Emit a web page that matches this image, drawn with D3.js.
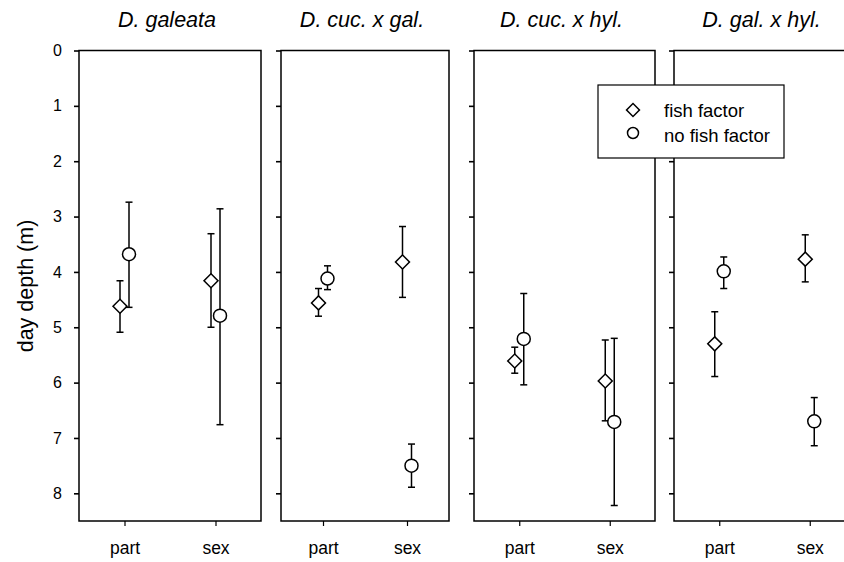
<!DOCTYPE html>
<html>
<head>
<meta charset="utf-8">
<script src="https://cdn.jsdelivr.net/npm/d3@7"></script>
<style>
body { margin: 0; background: #fff; }
text { font-family: "Liberation Sans", Arial, sans-serif; fill: #000; }
</style>
</head>
<body>
<script>
var width = 844;
var height = 562;

// data
var panelTitles = ["D. galeata", "D. cuc. x gal.", "D. cuc. x hyl.", "D. gal. x hyl."];
var categories = ["part", "sex"];
var depthTicks = [0, 1, 2, 3, 4, 5, 6, 7, 8];
// fish factor (diamonds): mean, upper bar end, lower bar end
var fishMean = [[4.62, 4.16], [4.56, 3.82], [5.61, 5.97], [5.30, 3.77]];
var fishTop = [[4.16, 3.31], [4.30, 3.18], [5.36, 5.23], [4.72, 3.33]];
var fishBottom = [[5.09, 5.00], [4.80, 4.46], [5.83, 6.69], [5.89, 4.18]];
// no fish factor (circles)
var noFishMean = [[3.68, 4.79], [4.12, 7.50], [5.21, 6.71], [3.99, 6.70]];
var noFishTop = [[2.74, 2.86], [3.89, 7.11], [4.39, 5.20], [3.73, 6.27]];
var noFishBottom = [[4.64, 6.76], [4.32, 7.89], [6.04, 8.22], [4.30, 7.14]];

// layout
var panelLeft = [79, 281, 474, 674];
var panelWidth = [182, 168, 181, 181];
var plotTop = 50.5, plotBottom = 521;
var offset = 4.5;

var svg = d3.select("body")
  .append("svg")
  .attr("width", width)
  .attr("height", height);

var y = d3.scaleLinear()
  .domain([0, 8.5])
  .range([plotTop, plotBottom]);

panelTitles.forEach(function (title, p) {
  var g = svg.append("g");
  var x = d3.scalePoint()
    .domain(categories)
    .range([panelLeft[p], panelLeft[p] + panelWidth[p]])
    .padding(0.5);

  // frame
  g.append("rect")
    .attr("x", panelLeft[p])
    .attr("y", plotTop)
    .attr("width", panelWidth[p])
    .attr("height", plotBottom - plotTop)
    .attr("fill", "none")
    .attr("stroke", "#000")
    .attr("stroke-width", 1.5);

  var yAxis = d3.axisLeft(y)
    .tickValues(depthTicks)
    .tickSize(5)
    .tickPadding(12)
    .tickFormat(p == 0 ? d3.format("d") : "");
  var ya = g.append("g")
    .attr("transform", "translate(" + panelLeft[p] + ",0)")
    .call(yAxis);
  ya.select(".domain").remove();
  ya.selectAll("line").attr("stroke-width", 1.6);
  ya.selectAll("text")
    .style("font-size", "16px")
    .style("font-family", "Liberation Sans, Arial, sans-serif");

  var xAxis = d3.axisBottom(x)
    .tickSize(5)
    .tickPadding(16);
  var xa = g.append("g")
    .attr("transform", "translate(0," + plotBottom + ")")
    .call(xAxis);
  xa.select(".domain").remove();
  xa.selectAll("line").attr("stroke-width", 1.2);
  xa.selectAll("text")
    .style("font-size", "17.5px")
    .style("font-family", "Liberation Sans, Arial, sans-serif");

  g.append("text")
    .attr("x", panelLeft[p] + panelWidth[p] / 2 - 3)
    .attr("y", 27)
    .attr("text-anchor", "middle")
    .style("font-size", "21.5px")
    .style("font-style", "italic")
    .text(title);

  var series = [
    { shape: "diamond", dx: -offset, mean: fishMean[p], lo: fishTop[p], hi: fishBottom[p] },
    { shape: "circle", dx: offset, mean: noFishMean[p], lo: noFishTop[p], hi: noFishBottom[p] }
  ];

  series.forEach(function (s) {
    var pts = categories.map(function (c, i) {
      return { cx: x(c) + s.dx, m: s.mean[i], lo: s.lo[i], hi: s.hi[i] };
    });
    var eb = g.append("g")
      .attr("stroke", "#000")
      .attr("stroke-width", 1.5);
    eb.selectAll("line.bar")
      .data(pts)
      .enter()
      .append("line")
      .attr("x1", function (d) { return d.cx; })
      .attr("x2", function (d) { return d.cx; })
      .attr("y1", function (d) { return y(d.lo); })
      .attr("y2", function (d) { return y(d.hi); });
    eb.selectAll("line.caplo")
      .data(pts)
      .enter()
      .append("line")
      .attr("x1", function (d) { return d.cx - 3.5; })
      .attr("x2", function (d) { return d.cx + 3.5; })
      .attr("y1", function (d) { return y(d.lo); })
      .attr("y2", function (d) { return y(d.lo); });
    eb.selectAll("line.caphi")
      .data(pts)
      .enter()
      .append("line")
      .attr("x1", function (d) { return d.cx - 3.5; })
      .attr("x2", function (d) { return d.cx + 3.5; })
      .attr("y1", function (d) { return y(d.hi); })
      .attr("y2", function (d) { return y(d.hi); });

    if (s.shape == "circle") {
      g.selectAll(null)
        .data(pts)
        .enter()
        .append("circle")
        .attr("cx", function (d) { return d.cx; })
        .attr("cy", function (d) { return y(d.m); })
        .attr("r", 6.5)
        .attr("fill", "#fff")
        .attr("stroke", "#000")
        .attr("stroke-width", 1.5);
    } else {
      g.selectAll(null)
        .data(pts)
        .enter()
        .append("path")
        .attr("d", d3.symbol(d3.symbolSquare, 98))
        .attr("transform", function (d) {
          return "translate(" + d.cx + "," + y(d.m) + ") rotate(45)";
        })
        .attr("fill", "#fff")
        .attr("stroke", "#000")
        .attr("stroke-width", 1.5);
    }
  });
});

// y label
svg.append("text")
  .attr("transform", "translate(33,286) rotate(-90)")
  .attr("text-anchor", "middle")
  .style("font-size", "21.5px")
  .text("day depth (m)");

// legend
var legend = svg.append("g");
legend.append("rect")
  .attr("x", 598)
  .attr("y", 85)
  .attr("width", 186)
  .attr("height", 73)
  .attr("fill", "#fff")
  .attr("stroke", "#000")
  .attr("stroke-width", 1.2);
var legendItems = ["fish factor", "no fish factor"];
legend.selectAll("text")
  .data(legendItems)
  .enter()
  .append("text")
  .attr("x", 664)
  .attr("y", function (d, i) { return 117 + i * 24.5; })
  .style("font-size", "18.5px")
  .text(function (d) { return d; });
legend.append("path")
  .attr("d", d3.symbol(d3.symbolSquare, 84))
  .attr("transform", "translate(633,110) rotate(45)")
  .attr("fill", "#fff")
  .attr("stroke", "#000")
  .attr("stroke-width", 1.5);
legend.append("circle")
  .attr("cx", 633)
  .attr("cy", 133)
  .attr("r", 5.5)
  .attr("fill", "#fff")
  .attr("stroke", "#000")
  .attr("stroke-width", 1.5);
</script>
</body>
</html>
